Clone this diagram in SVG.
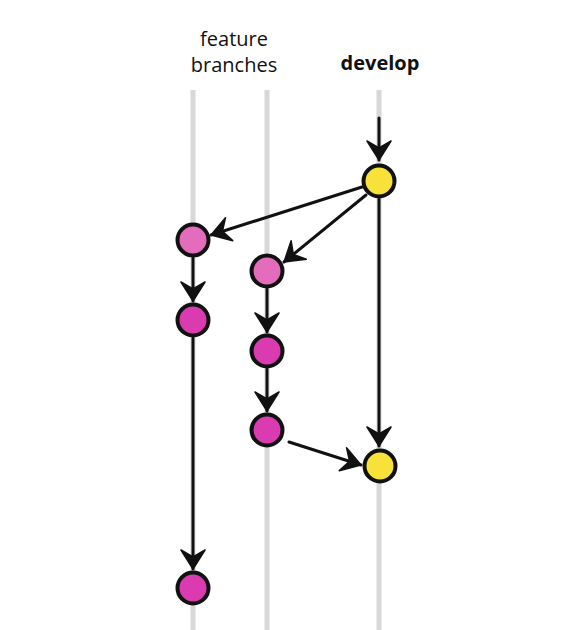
<svg xmlns="http://www.w3.org/2000/svg" width="570" height="630" viewBox="0 0 570 630">
<style>
.lane{stroke:#d8d8d8;stroke-width:5;fill:none}
.edge{stroke:#111;stroke-width:3;fill:none;stroke-linecap:round}
.node{stroke:#111;stroke-width:4}
.dev{fill:#f8e23a}
.fl{fill:#e46cbc}
.fd{fill:#da3bb0}
.lbl{font-family:"Open Sans","DejaVu Sans",sans-serif;font-size:20px;fill:#111;text-anchor:middle}
</style>
<defs>
<marker id="ah" viewBox="-22 -14 24 28" refX="0" refY="0" markerWidth="24" markerHeight="28" markerUnits="userSpaceOnUse" orient="auto">
<path d="M0,0 L-19,-12 L-12,0 L-19,12 Z" fill="#111" stroke="#111" stroke-width="1.5" stroke-linejoin="round"/>
</marker>
</defs>
<g id="lanes">
<line class="lane" x1="193" y1="90" x2="193" y2="630"/>
<line class="lane" x1="267" y1="90" x2="267" y2="630"/>
<line class="lane" x1="379" y1="90" x2="379" y2="630"/>
</g>
<g id="labels">
<text class="lbl" x="234" y="46">feature</text>
<text class="lbl" x="234" y="72">branches</text>
<text class="lbl" x="380" y="70" font-weight="bold">develop</text>
</g>
<g id="connectors">
<line class="edge" x1="379" y1="118" x2="379" y2="160" marker-end="url(#ah)"/>
<line class="edge" x1="362" y1="187" x2="211" y2="235" marker-end="url(#ah)"/>
<line class="edge" x1="366" y1="195" x2="284" y2="262" marker-end="url(#ah)"/>
<line class="edge" x1="379" y1="199" x2="379" y2="446" marker-end="url(#ah)"/>
<line class="edge" x1="193" y1="258" x2="193" y2="301" marker-end="url(#ah)"/>
<line class="edge" x1="193" y1="338" x2="193" y2="569" marker-end="url(#ah)"/>
<line class="edge" x1="267" y1="289" x2="267" y2="332" marker-end="url(#ah)"/>
<line class="edge" x1="267" y1="369" x2="267" y2="411" marker-end="url(#ah)"/>
<line class="edge" x1="289" y1="442" x2="361" y2="465" marker-end="url(#ah)"/>
</g>
<g id="develop-1"><circle class="node dev" cx="379" cy="181" r="15.5"/></g>
<g id="develop-2"><circle class="node dev" cx="380" cy="466" r="15.5"/></g>
<g id="feature-a1"><circle class="node fl" cx="193" cy="240" r="15.5"/></g>
<g id="feature-a2"><circle class="node fd" cx="193" cy="320" r="15.5"/></g>
<g id="feature-a3"><circle class="node fd" cx="193" cy="588" r="15.5"/></g>
<g id="feature-b1"><circle class="node fl" cx="267" cy="271" r="15.5"/></g>
<g id="feature-b2"><circle class="node fd" cx="267" cy="351" r="15.5"/></g>
<g id="feature-b3"><circle class="node fd" cx="267" cy="430" r="15.5"/></g>
</svg>
